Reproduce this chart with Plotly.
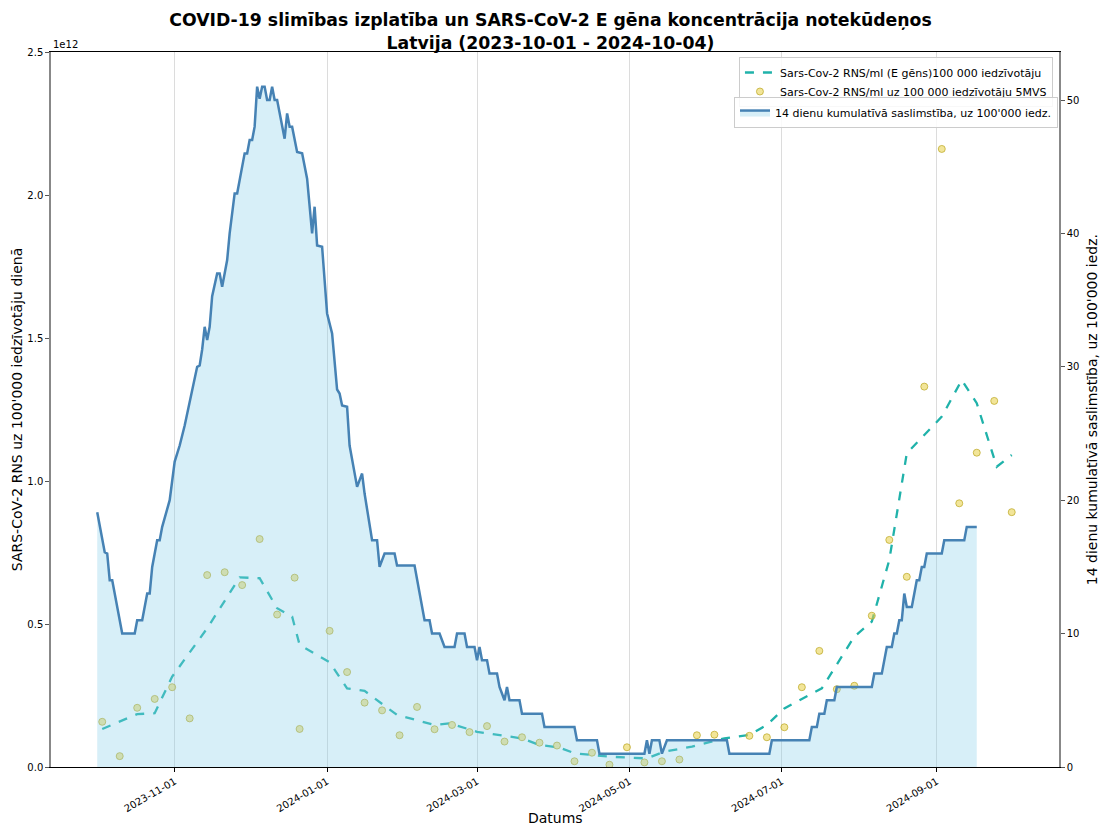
import pandas as pd
import plotly.graph_objects as go

START = pd.Timestamp("2023-10-01")

# 14-day cumulative incidence per 100'000 (right axis); day offsets from 2023-10-01
inc_day = [0, 3, 4, 5, 6, 8, 10, 15, 16, 18, 20, 21, 22, 24, 25, 26, 29, 31, 33, 35, 37, 39, 40, 41, 42, 43, 44, 45,
           46, 48, 49, 50, 52, 53, 55, 56, 59, 60, 61, 62, 63, 64, 65, 66, 67, 68, 69, 70, 71, 72, 75, 76, 77, 78,
           80, 82, 84, 86, 87, 88, 90, 92, 94, 96, 97, 98, 100, 101, 104, 106, 107, 110, 112, 113, 115, 119, 120,
           127, 131, 133, 134, 137, 139, 143, 144, 147, 148, 151, 152, 153, 154, 156, 157, 160, 161, 163, 164, 165,
           169, 170, 178, 179, 191, 192, 200, 201, 219, 220, 221, 222, 225, 226, 228, 252, 253, 269, 270, 285, 286,
           288, 289, 291, 292, 295, 296, 310, 311, 314, 316, 318, 319, 320, 321, 322, 323, 324, 326, 328, 329, 330,
           331, 332, 338, 339, 347, 348, 352]
inc_val = [19.1, 16.1, 16.0, 14.0, 14.0, 11.9, 10.0, 10.0, 11.0, 11.0, 13.0, 13.0, 15.0, 17.0, 17.0, 18.0, 20.0,
           22.9, 24.1, 25.6, 27.3, 29.1, 30.0, 30.1, 31.3, 33.0, 32.0, 33.0, 35.3, 37.0, 37.0, 36.0, 38.0, 40.0,
           43.0, 43.0, 46.0, 46.0, 47.0, 47.0, 48.0, 51.0, 50.1, 51.0, 51.0, 50.0, 50.0, 51.0, 50.0, 50.0, 47.1,
           49.0, 48.0, 48.0, 46.1, 46.0, 44.1, 40.0, 42.0, 39.1, 39.0, 34.0, 32.5, 28.3, 28.0, 27.1, 27.0, 24.1,
           21.0, 22.0, 20.5, 17.0, 17.0, 15.0, 16.0, 16.0, 15.1, 15.1, 11.0, 11.0, 10.0, 10.0, 9.0, 9.0, 10.0,
           10.0, 9.0, 9.0, 8.0, 9.0, 8.0, 8.0, 7.0, 7.0, 6.0, 5.0, 6.0, 5.0, 5.0, 4.0, 4.0, 3.0, 3.0, 2.0, 2.0,
           1.0, 1.0, 2.0, 1.0, 2.0, 2.0, 1.0, 2.0, 2.0, 1.0, 1.0, 2.0, 2.0, 3.0, 3.0, 4.0, 4.0, 5.0, 5.0, 6.0,
           6.0, 7.0, 7.0, 9.0, 9.0, 10.0, 10.0, 11.0, 11.0, 13.0, 12.0, 12.0, 14.0, 14.0, 15.0, 15.0, 16.0, 16.0,
           17.0, 17.0, 18.0, 18.0]

# Sars-Cov-2 RNS/ml uz 100 000 iedzīvotāju 5MVS (x 1e12), weekly samples
pts_day = [2, 9, 16, 23, 30, 37, 44, 51, 58, 65, 72, 79, 81, 93, 100, 107, 114, 121, 128, 135, 142, 149, 156,
           163, 170, 177, 184, 191, 198, 205, 212, 219, 226, 233, 240, 247, 261, 268, 275, 282, 289, 296, 303,
           310, 317, 324, 331, 338, 345, 352, 359, 366]
pts_val = [0.158, 0.038, 0.207, 0.238, 0.279, 0.170, 0.671, 0.681, 0.636, 0.797, 0.533, 0.662, 0.133, 0.476,
           0.332, 0.225, 0.198, 0.111, 0.210, 0.132, 0.147, 0.122, 0.143, 0.089, 0.104, 0.085, 0.075, 0.020,
           0.050, 0.008, 0.069, 0.016, 0.020, 0.026, 0.111, 0.113, 0.109, 0.104, 0.139, 0.279, 0.406, 0.272,
           0.284, 0.529, 0.794, 0.665, 1.330, 2.161, 0.922, 1.099, 1.280, 0.891]

# Sars-Cov-2 RNS/ml (E gēns) 100 000 iedzīvotāju, smoothed (x 1e12)
avg_day = [2, 16, 23, 30, 44, 57, 65, 72, 78, 81, 93, 100, 107, 120, 135, 141, 152, 170, 177, 185, 191, 205,
           220, 227, 238, 251, 261, 268, 275, 290, 303, 310, 317, 324, 338, 346, 352, 360, 366]
avg_val = [0.133, 0.185, 0.188, 0.316, 0.485, 0.663, 0.660, 0.555, 0.526, 0.427, 0.366, 0.275, 0.266, 0.182,
           0.147, 0.153, 0.123, 0.100, 0.077, 0.068, 0.048, 0.036, 0.030, 0.054, 0.071, 0.100, 0.112, 0.147,
           0.205, 0.275, 0.456, 0.508, 0.724, 1.097, 1.225, 1.353, 1.272, 1.050, 1.091]

x_ticks = ["2023-11-01", "2024-01-01", "2024-03-01", "2024-05-01", "2024-07-01", "2024-09-01"]
y1_ticks = [0.0, 0.5, 1.0, 1.5, 2.0, 2.5]
y2_ticks = [0, 10, 20, 30, 40, 50]


def to_dates(days):
    return [START + pd.Timedelta(days=d) for d in days]


FONT = "DejaVu Sans"
fig = go.Figure()

fig.add_trace(go.Scatter(
    x=to_dates(avg_day), y=[v * 1e12 for v in avg_val], mode="lines",
    line=dict(color="#20b2aa", width=2.3, dash="dash"),
    name="Sars-Cov-2 RNS/ml (E gēns)100 000 iedzīvotāju", legend="legend", yaxis="y"))
fig.add_trace(go.Scatter(
    x=to_dates(pts_day), y=[v * 1e12 for v in pts_val], mode="markers",
    marker=dict(color="rgba(232,208,70,0.55)", size=7, line=dict(color="rgba(190,170,40,0.75)", width=1)),
    name="Sars-Cov-2 RNS/ml uz 100 000 iedzīvotāju 5MVS", legend="legend", yaxis="y"))
fig.add_trace(go.Scatter(
    x=to_dates(inc_day), y=inc_val, mode="lines", fill="tozeroy",
    fillcolor="rgba(135,206,235,0.33)",
    line=dict(color="#4682b4", width=2.5),
    name="14 dienu kumulatīvā saslimstība, uz 100'000 iedz.", legend="legend2", yaxis="y2"))

fig.update_layout(
    width=1101, height=827,
    margin=dict(l=51, r=42, t=52, b=60, autoexpand=False),
    paper_bgcolor="white", plot_bgcolor="white",
    font=dict(family=FONT, color="black", size=10),
    title=dict(text="<b>COVID-19 slimības izplatība un SARS-CoV-2 E gēna koncentrācija notekūdeņos<br>Latvija (2023-10-01 - 2024-10-04)</b>",
               x=0.5, xanchor="center", y=0.968, yanchor="top",
               font=dict(family=FONT, size=17.3, color="black")),
    xaxis=dict(
        type="date", range=["2023-09-12 12:00", "2024-10-19 22:00"],
        tickvals=x_ticks, ticktext=x_ticks, tickangle=-30, automargin=False,
        showgrid=True, gridcolor="#dcdcdc", gridwidth=1,
        showline=True, linecolor="black", linewidth=1, mirror=True,
        ticks="outside", ticklen=4, tickcolor="black",
        zeroline=False),
    yaxis=dict(
        range=[0, 2.5e12], tickvals=[v * 1e12 for v in y1_ticks],
        ticktext=[f"{v:.1f}" for v in y1_ticks], automargin=False,
        showgrid=False, zeroline=False,
        showline=True, linecolor="#888888", linewidth=1.5,
        ticks="outside", ticklen=4, tickcolor="#555"),
    yaxis2=dict(
        overlaying="y", side="right", range=[0, 53.6], automargin=False,
        tickvals=y2_ticks, ticktext=[str(v) for v in y2_ticks],
        showgrid=False, zeroline=False,
        showline=True, linecolor="#888888", linewidth=1.5,
        ticks="outside", ticklen=4, tickcolor="#555"),
    legend=dict(x=0.994, y=0.993, xanchor="right", yanchor="top",
                bgcolor="rgba(255,255,255,0.85)", bordercolor="#cccccc", borderwidth=1,
                font=dict(size=11), tracegroupgap=0, itemwidth=30),
    legend2=dict(x=0.999, y=0.937, xanchor="right", yanchor="top",
                 bgcolor="rgba(255,255,255,0.85)", bordercolor="#cccccc", borderwidth=1,
                 font=dict(size=11), itemwidth=30),
    annotations=[
        dict(text="1e12", xref="paper", yref="paper", x=0, y=1.0, xanchor="left", yanchor="bottom",
             showarrow=False, font=dict(size=10)),
        dict(text="Datums", xref="paper", yref="paper", x=0.5, y=-0.057, xanchor="center", yanchor="top",
             showarrow=False, font=dict(size=14)),
        dict(text="SARS-CoV-2 RNS uz 100'000 iedzīvotāju dienā", xref="paper", yref="paper",
             x=-0.034, y=0.5, xanchor="center", yanchor="middle", textangle=-90,
             showarrow=False, font=dict(size=14)),
        dict(text="14 dienu kumulatīvā saslimstība, uz 100'000 iedz.", xref="paper", yref="paper",
             x=1.0325, y=0.5, xanchor="center", yanchor="middle", textangle=-90,
             showarrow=False, font=dict(size=14)),
    ],
)

fig.write_html("out.html", config={"displayModeBar": False},
               post_script="document.body.style.margin='0';document.body.style.overflow='hidden';")
